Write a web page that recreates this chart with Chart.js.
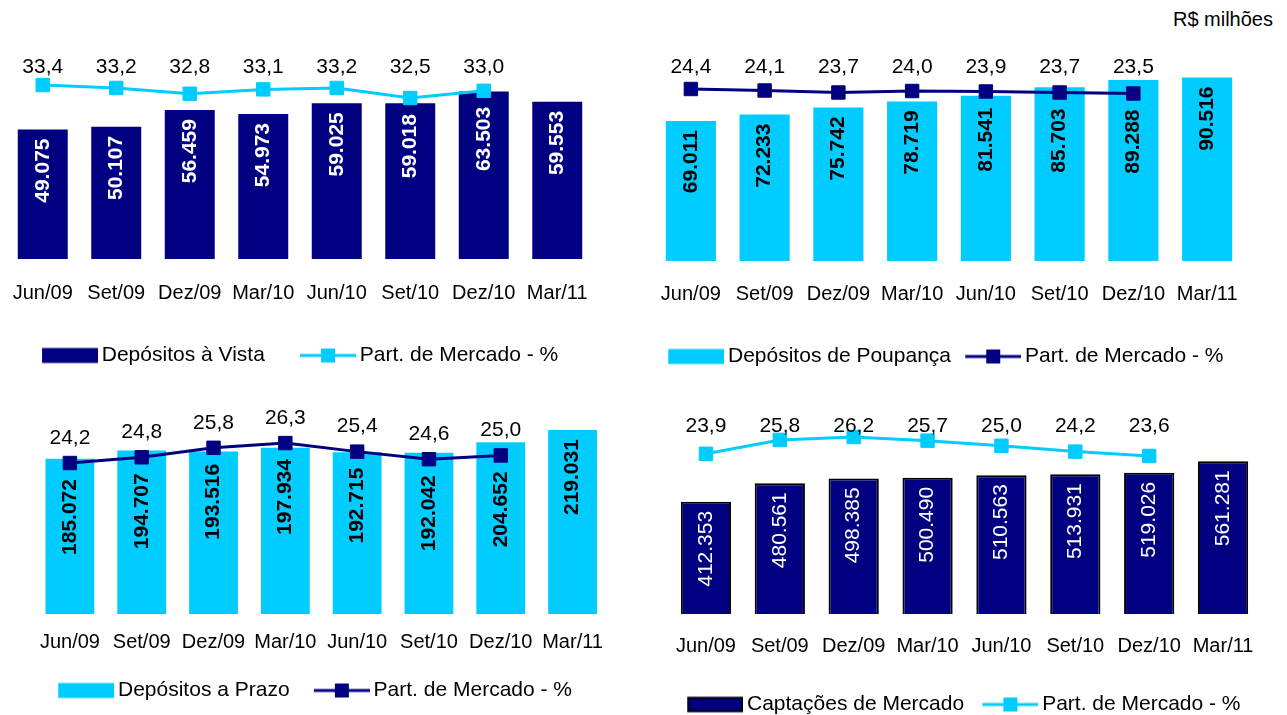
<!DOCTYPE html>
<html lang="pt-BR">
<head>
<meta charset="utf-8">
<title>Captações</title>
<script src="https://cdn.jsdelivr.net/npm/chart.js@4.4.1/dist/chart.umd.min.js"></script>
<style>
    body { margin: 0; background: #fff; width: 1287px; height: 715px; overflow: hidden; position: relative; font-family: "Liberation Sans", Arial, sans-serif; }
    canvas { position: absolute; }
    #unit { position: absolute; right: 14px; top: 8px; font-size: 20px; color: #000; }
</style>
</head>
<body>
<div id="unit">R$ milhões</div>
<canvas id="cVista" width="640" height="376" style="left:0;top:0"></canvas>
<canvas id="cPoupanca" width="647" height="377" style="left:640px;top:0"></canvas>
<canvas id="cPrazo" width="640" height="341" style="left:0;top:370px"></canvas>
<canvas id="cMercado" width="647" height="355" style="left:640px;top:370px"></canvas>
<script>
const categories = ['Jun/09', 'Set/09', 'Dez/09', 'Mar/10', 'Jun/10', 'Set/10', 'Dez/10', 'Mar/11'];

const vistaValues = [49075, 50107, 56459, 54973, 59025, 59018, 63503, 59553];
const vistaShare = [33.4, 33.2, 32.8, 33.1, 33.2, 32.5, 33.0, null];

const poupancaValues = [69011, 72233, 75742, 78719, 81541, 85703, 89288, 90516];
const poupancaShare = [24.4, 24.1, 23.7, 24.0, 23.9, 23.7, 23.5, null];

const prazoValues = [185072, 194707, 193516, 197934, 192715, 192042, 204652, 219031];
const prazoShare = [24.2, 24.8, 25.8, 26.3, 25.4, 24.6, 25.0, null];

const mercadoValues = [412353, 480561, 498385, 500490, 510563, 513931, 519026, 561281];
const mercadoShare = [23.9, 25.8, 26.2, 25.7, 25.0, 24.2, 23.6, null];

const shareLabel = 'Part. de Mercado - %';

const NAVY = '#000080';
const CYAN = '#00CCFF';
const FONT = '"Liberation Sans", Arial, sans-serif';
const FS = 21;

const fmtThousands = v => String(v).replace(/\B(?=(\d{3})+(?!\d))/g, '.');
const fmtShare = v => v.toFixed(1).replace('.', ',');

// legend swatch as a small canvas, shifted so text sits ~4px after it
const SW_W = 56;
const BOX_W = SW_W + 4 - FS / 2;
function swatch(kind, color, border) {
    const iw = Math.round(2 * (SW_W - BOX_W / 2));
    const ih = 20;
    const c = document.createElement('canvas');
    c.width = iw;
    c.height = ih;
    const g = c.getContext('2d');
    const x0 = iw - SW_W;
    if (kind === 'bar') {
        g.fillStyle = color;
        g.fillRect(x0, 2.5, SW_W, 15);
        if (border) {
            g.strokeStyle = border;
            g.lineWidth = 2;
            g.strokeRect(x0 + 1, 3.5, SW_W - 2, 13);
        }
    } else {
        g.strokeStyle = color;
        g.lineWidth = 3;
        g.beginPath();
        g.moveTo(x0, ih / 2);
        g.lineTo(iw, ih / 2);
        g.stroke();
        g.fillStyle = color;
        g.fillRect(x0 + SW_W / 2 - 7, ih / 2 - 7, 14, 14);
    }
    return c;
}

const valueLabels = {
    id: 'valueLabels',
    afterDatasetsDraw(chart, args, opts) {
        const ctx = chart.ctx;
        const barMeta = chart.getDatasetMeta(0);
        const lineMeta = chart.getDatasetMeta(1);
        const bars = chart.data.datasets[0].data;
        const shares = chart.data.datasets[1].data;
        ctx.save();

        // rotated bar values, near the top of each bar, below the line if it crosses
        ctx.font = `${opts.barWeight} ${FS}px ${FONT}`;
        ctx.fillStyle = opts.barColor;
        ctx.textAlign = 'right';
        ctx.textBaseline = 'middle';
        barMeta.data.forEach((bar, i) => {
            let top = bar.y + 9;
            const pt = lineMeta.data[i];
            if (pt && shares[i] != null) top = Math.max(top, pt.y + 16);
            ctx.save();
            ctx.translate(bar.x, top);
            ctx.rotate(-Math.PI / 2);
            ctx.fillText(fmtThousands(bars[i]), 0, 0);
            ctx.restore();
        });

        // market share values
        ctx.font = `${FS}px ${FONT}`;
        ctx.fillStyle = '#000';
        ctx.textAlign = 'center';
        lineMeta.data.forEach((pt, i) => {
            if (shares[i] == null) return;
            const y = opts.rowY != null ? opts.rowY : pt.y - opts.offset;
            ctx.fillText(fmtShare(shares[i]), pt.x, y);
        });
        ctx.restore();
    }
};

function buildChart(id, p) {
    const barSw = swatch('bar', p.barColor, p.barBorder);
    const lineSw = swatch('line', p.lineColor);

    return new Chart(document.getElementById(id), {
        type: 'bar',
        data: {
            labels: categories,
            datasets: [
                {
                    label: p.barLabel,
                    data: p.values,
                    backgroundColor: p.barColor,
                    borderColor: p.barBorder || p.barColor,
                    borderWidth: p.barBorder ? 2 : 0,
                    barPercentage: 0.68,
                    categoryPercentage: 1,
                    yAxisID: 'y',
                    order: 1
                },
                {
                    type: 'line',
                    label: shareLabel,
                    data: p.share,
                    borderColor: p.lineColor,
                    backgroundColor: p.lineColor,
                    borderWidth: 3,
                    pointStyle: 'rect',
                    pointRadius: 9.5,
                    pointBackgroundColor: p.lineColor,
                    pointBorderColor: p.lineColor,
                    pointBorderWidth: 1,
                    tension: 0,
                    yAxisID: 'y1',
                    order: 0
                }
            ]
        },
        options: {
            responsive: false,
            animation: false,
            layout: { padding: p.pad, autoPadding: false },
            scales: {
                x: {
                    // invisible tick marks give the gap under the bars
                    grid: { display: true, drawOnChartArea: false, drawTicks: true, tickLength: p.tickGap, color: 'rgba(0,0,0,0)' },
                    border: { display: false },
                    ticks: {
                        color: '#000',
                        font: { family: FONT, size: 20 },
                        padding: 0,
                        maxRotation: 0,
                        autoSkip: false
                    },
                    afterFit: s => {
                        s.height = p.axisH;
                        s.paddingLeft = 0;
                        s.paddingRight = 0;
                    }
                },
                y: { display: false, min: 0, max: p.yMax },
                y1: { display: false, min: p.shareMin, max: p.shareMax }
            },
            plugins: {
                tooltip: { enabled: false },
                legend: {
                    position: 'bottom',
                    align: p.legendAlign,
                    labels: {
                        color: '#000',
                        font: { family: FONT, size: FS },
                        usePointStyle: true,
                        pointStyleWidth: BOX_W,
                        padding: p.legendPad,
                        generateLabels: () => [
                            { text: p.barLabel, pointStyle: barSw, fillStyle: p.barColor, strokeStyle: p.barColor, lineWidth: 0, hidden: false, datasetIndex: 0 },
                            { text: shareLabel, pointStyle: lineSw, fillStyle: p.lineColor, strokeStyle: p.lineColor, lineWidth: 0, hidden: false, datasetIndex: 1 }
                        ]
                    }
                },
                valueLabels: p.labels
            }
        },
        plugins: [valueLabels]
    });
}

buildChart('cVista', {
    values: vistaValues, share: vistaShare,
    barLabel: 'Depósitos à Vista', barColor: NAVY, lineColor: CYAN,
    pad: { left: 6, right: 46, top: 40, bottom: 0 },
    axisH: 51, tickGap: 22, legendPad: 35, legendAlign: 'center',
    yMax: 83000, shareMin: 21.32, shareMax: 36.53,
    labels: { barColor: '#fff', barWeight: 'bold', rowY: 67 }
});

buildChart('cPoupanca', {
    values: poupancaValues, share: poupancaShare,
    barLabel: 'Depósitos de Poupança', barColor: CYAN, lineColor: NAVY,
    pad: { left: 14, right: 43, top: 40, bottom: 0 },
    axisH: 71, tickGap: 21, legendPad: 14, legendAlign: 'start',
    yMax: 109000, shareMin: -10, shareMax: 34.2,
    labels: { barColor: '#000', barWeight: 'bold', rowY: 67 }
});

buildChart('cPrazo', {
    values: prazoValues, share: prazoShare,
    barLabel: 'Depósitos a Prazo', barColor: CYAN, lineColor: NAVY,
    pad: { left: 34, right: 31.5, top: 40, bottom: 0 },
    axisH: 42, tickGap: 16, legendPad: 24, legendAlign: 'start',
    yMax: 243000, shareMin: 8.31, shareMax: 29.78,
    labels: { barColor: '#000', barWeight: 'bold', offset: 25 }
});

buildChart('cMercado', {
    values: mercadoValues, share: mercadoShare,
    barLabel: 'Captações de Mercado', barColor: NAVY, barBorder: '#000', lineColor: CYAN,
    pad: { left: 29, right: 27, top: 40, bottom: 0 },
    axisH: 62, tickGap: 20, legendPad: 18, legendAlign: 'start',
    yMax: 750000, shareMin: 1.95, shareMax: 29.9,
    labels: { barColor: '#fff', barWeight: 'normal', rowY: 56 }
});
</script>
</body>
</html>
